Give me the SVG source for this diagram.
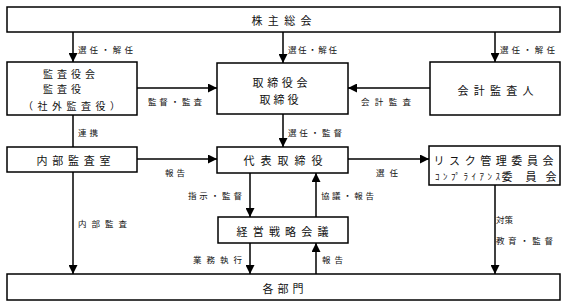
<svg xmlns="http://www.w3.org/2000/svg" width="566" height="307" viewBox="0 0 566 307">
<style>
.box{fill:#fff;stroke:#000;stroke-width:1.5}
.t{font-family:"Noto Sans CJK JP","Noto Sans CJK SC",sans-serif;font-size:11px;fill:#111;dominant-baseline:central}
.s{font-size:10px}
.l{font-family:"Noto Sans CJK JP","Noto Sans CJK SC",sans-serif;font-size:8.5px;fill:#111;dominant-baseline:central}
.c{stroke:#000;stroke-width:1.5;fill:none}
.a{marker-end:url(#ah)}
</style>
<defs>
<marker id="ah" markerUnits="userSpaceOnUse" markerWidth="9" markerHeight="9" refX="9" refY="4.5" orient="auto">
<path d="M0,0 L9,4.5 L0,9 z" fill="#000"/>
</marker>
</defs>
<g id="connectors">
<line class="c a" x1="73" y1="32" x2="73" y2="62"/>
<line class="c a" x1="283" y1="32" x2="283" y2="63"/>
<line class="c a" x1="495" y1="32" x2="495" y2="62"/>
<line class="c a" x1="137" y1="88" x2="217" y2="88"/>
<line class="c a" x1="430" y1="88" x2="348" y2="88"/>
<line class="c" x1="73" y1="115" x2="73" y2="147"/>
<line class="c a" x1="283" y1="114" x2="283" y2="147"/>
<line class="c a" x1="137" y1="159" x2="217" y2="159"/>
<line class="c a" x1="348" y1="159" x2="429" y2="159"/>
<line class="c a" x1="73" y1="172" x2="73" y2="274"/>
<line class="c a" x1="250" y1="173" x2="250" y2="217"/>
<line class="c a" x1="316" y1="217" x2="316" y2="173"/>
<line class="c a" x1="250" y1="243" x2="250" y2="274"/>
<line class="c a" x1="316" y1="274" x2="316" y2="243"/>
<line class="c a" x1="495" y1="185" x2="495" y2="274"/>
<text class="l" x="78" y="49" textLength="55" lengthAdjust="spacing">選任・解任</text>
<text class="l" x="288" y="49" textLength="49" lengthAdjust="spacing">選任・解任</text>
<text class="l" x="500" y="49" textLength="55" lengthAdjust="spacing">選任・解任</text>
<text class="l" x="148" y="100.5" textLength="54" lengthAdjust="spacing">監督・監査</text>
<text class="l" x="361" y="100.5" textLength="50" lengthAdjust="spacing">会計監査</text>
<text class="l" x="78" y="131.5" textLength="20" lengthAdjust="spacing">連携</text>
<text class="l" x="288" y="131.5" textLength="54" lengthAdjust="spacing">選任・監督</text>
<text class="l" x="165" y="171.5" textLength="20" lengthAdjust="spacing">報告</text>
<text class="l" x="376" y="171.5" textLength="22" lengthAdjust="spacing">選任</text>
<text class="l" x="78" y="223" textLength="49" lengthAdjust="spacing">内部監査</text>
<text class="l" x="188" y="195" textLength="54" lengthAdjust="spacing">指示・監督</text>
<text class="l" x="321" y="195" textLength="53" lengthAdjust="spacing">協議・報告</text>
<text class="l" x="193" y="259" textLength="49" lengthAdjust="spacing">業務執行</text>
<text class="l" x="322" y="259" textLength="21" lengthAdjust="spacing">報告</text>
<text class="l" x="496" y="219" textLength="17" lengthAdjust="spacing">対策</text>
<text class="l" x="496" y="240" textLength="57" lengthAdjust="spacing">教育・監督</text>
</g>
<g id="shareholders">
<rect class="box" x="7" y="7" width="553" height="25"/>
<text class="t" x="251.5" y="20" textLength="60" lengthAdjust="spacing">株主総会</text>
</g>
<g id="auditors">
<rect class="box" x="7" y="62" width="130" height="53"/>
<text class="t s" x="43" y="73.5" textLength="52" lengthAdjust="spacing">監査役会</text>
<text class="t s" x="43" y="88.5" textLength="38" lengthAdjust="spacing">監査役</text>
<text class="t s" x="23" y="105" textLength="97" lengthAdjust="spacing">（社外監査役）</text>
</g>
<g id="board">
<rect class="box" x="217" y="63" width="131" height="51"/>
<text class="t" x="252.5" y="82" textLength="55" lengthAdjust="spacing">取締役会</text>
<text class="t" x="259.5" y="99" textLength="39" lengthAdjust="spacing">取締役</text>
</g>
<g id="accounting-auditor">
<rect class="box" x="430" y="62" width="130" height="53"/>
<text class="t" x="457.5" y="90" textLength="76" lengthAdjust="spacing">会計監査人</text>
</g>
<g id="internal-audit">
<rect class="box" x="7" y="147" width="130" height="25"/>
<text class="t" x="36.5" y="160" textLength="74" lengthAdjust="spacing">内部監査室</text>
</g>
<g id="representative">
<rect class="box" x="217" y="147" width="131" height="26"/>
<text class="t" x="243.5" y="160" textLength="79" lengthAdjust="spacing">代表取締役</text>
</g>
<g id="risk-committee">
<rect class="box" x="429" y="146" width="131" height="39"/>
<text class="t" x="433.5" y="160" textLength="120" lengthAdjust="spacing">リスク管理委員会</text>
<text class="t" x="435" y="175.5"><tspan font-size="9" textLength="65" lengthAdjust="spacing">ｺﾝﾌﾟﾗｲｱﾝｽ</tspan><tspan x="501.5">委</tspan><tspan x="525.5">員</tspan><tspan x="545.5">会</tspan></text>
</g>
<g id="strategy-meeting">
<rect class="box" x="218" y="217" width="130" height="26"/>
<text class="t" x="236.5" y="231" textLength="92" lengthAdjust="spacing">経営戦略会議</text>
</g>
<g id="departments">
<rect class="box" x="7" y="274" width="553" height="26"/>
<text class="t" x="262.5" y="288" textLength="41" lengthAdjust="spacing">各部門</text>
</g>
</svg>
